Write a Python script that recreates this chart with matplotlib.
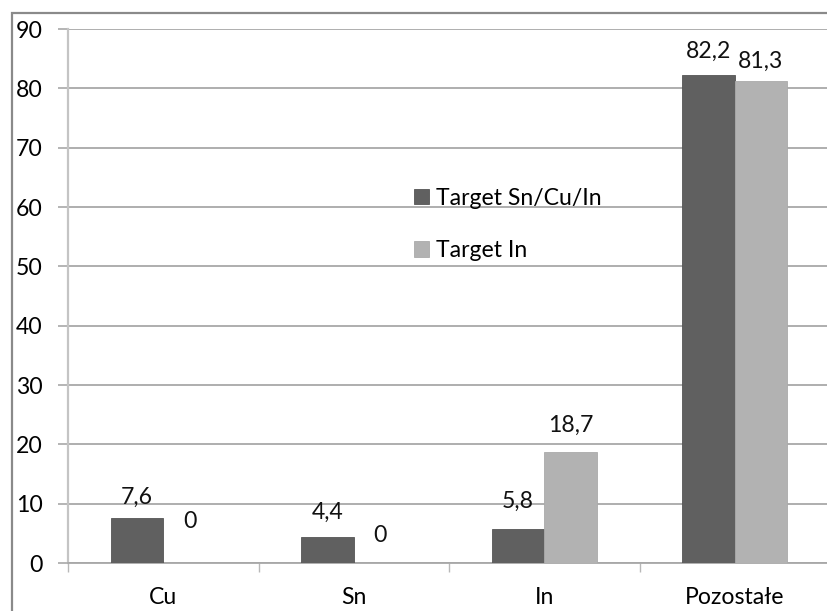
import numpy as np
import matplotlib.pyplot as plt
from matplotlib.patches import Rectangle

plt.rcParams['font.family'] = ['Lato', 'DejaVu Sans']

categories = ["Cu", "Sn", "In", "Pozostałe"]
series_names = ["Target Sn/Cu/In", "Target In"]
sn_cu_in = [7.6, 4.4, 5.8, 82.2]
target_in = [0, 0, 18.7, 81.3]
y_ticks = [0, 10, 20, 30, 40, 50, 60, 70, 80, 90]

# label lift above each bar top, in pixels
lift_dark = [21, 25, 27, 24]
lift_light = [42, 27, 27, 19]

DARK = "#606060"
LIGHT = "#b2b2b2"
GRID = "#a8a8a8"
FS = 16.6

W, H = 827, 611
fig = plt.figure(figsize=(W / 100, H / 100), dpi=100)
fig.patch.set_facecolor("white")

# outer chart border (runs off the right and bottom edges)
fig.patches.append(Rectangle((12 / W, -0.05), 1.2, (H - 13.5) / H + 0.05,
                             transform=fig.transFigure, fill=False,
                             edgecolor="#8a8a8a", linewidth=1.6))

ax = fig.add_axes([68 / W, 48 / H, 762 / W, 534 / H])
x = np.arange(len(categories))
bw = 0.275

bars_dark = ax.bar(x - bw / 2, sn_cu_in, bw, color=DARK, edgecolor="#555555",
                   linewidth=0.6, label=series_names[0], zorder=3)
bars_light = ax.bar(x + bw / 2, target_in, bw, color=LIGHT, edgecolor="#aaaaaa",
                    linewidth=0.6, label=series_names[1], zorder=3)

for bars, vals, lifts in [(bars_dark, sn_cu_in, lift_dark), (bars_light, target_in, lift_light)]:
    for b, v, lf in zip(bars, vals, lifts):
        txt = f"{v:g}".replace(".", ",")
        ax.annotate(txt, (b.get_x() + b.get_width() / 2, v),
                    xytext=(0, lf * 0.72), textcoords="offset points",
                    ha="center", va="center", fontsize=FS, color="#111111")

ax.set_xlim(-0.5, len(categories) - 0.5)
ax.set_ylim(0, 90)
ax.set_yticks(y_ticks)
ax.set_yticklabels([str(t) for t in y_ticks], fontsize=FS)
ax.set_xticks(x)
ax.set_xticklabels(categories, fontsize=FS)
ax.tick_params(axis="x", length=0, pad=17)
ax.tick_params(axis="y", length=7.2, width=1.2, color=GRID, pad=11)
ax.set_xticks(np.arange(len(categories) + 1) - 0.5, minor=True)
ax.tick_params(axis="x", which="minor", length=6.5, width=1.0, color="#b8b8b8")

ax.yaxis.grid(True, color=GRID, linewidth=1.3, zorder=0)
ax.set_axisbelow(True)
for s in ["top", "right"]:
    ax.spines[s].set_visible(False)
ax.spines["left"].set_color("#c4c4c4")
ax.spines["left"].set_linewidth(1.6)
ax.spines["bottom"].set_color(GRID)
ax.spines["bottom"].set_linewidth(1.3)

ax.legend(loc="upper left", bbox_to_anchor=(402 / W, (H - 176) / H),
          bbox_transform=fig.transFigure, frameon=False, fontsize=FS,
          handlelength=0.66, handleheight=0.66, handletextpad=0.33,
          labelspacing=1.38, borderpad=0.0)

fig.savefig("out.png", dpi=100, facecolor="white")
